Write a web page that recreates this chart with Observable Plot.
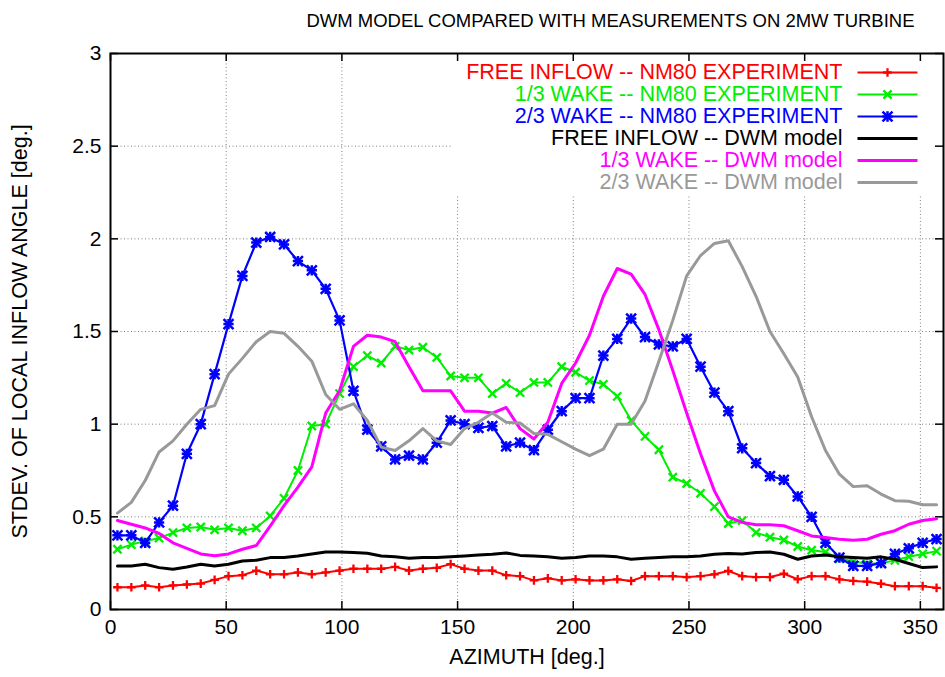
<!DOCTYPE html>
<html><head><meta charset="utf-8">
<script src="https://cdn.jsdelivr.net/npm/d3@7"></script>
<script src="https://cdn.jsdelivr.net/npm/@observablehq/plot@0.6"></script>
<style>
body{margin:0;background:#fff;}
#chart{width:945px;height:677px;}
</style></head><body><div id="chart"></div>
<script>
// ---------- data ----------
const azimuth = [3,9,15,21,27,33,39,45,51,57,63,69,75,81,87,93,99,105,111,117,
  123,129,135,141,147,153,159,165,171,177,183,189,195,201,207,213,219,225,231,237,
  243,249,255,261,267,273,279,285,291,297,303,309,315,321,327,333,339,345,351,357];

const freeInflowExp = [0.12,0.12,0.13,0.12,0.13,0.135,0.14,0.16,0.18,0.185,
  0.21,0.19,0.19,0.20,0.19,0.20,0.21,0.22,0.22,0.22,
  0.23,0.21,0.22,0.225,0.245,0.22,0.21,0.21,0.185,0.18,
  0.157,0.168,0.157,0.163,0.157,0.157,0.163,0.154,0.18,0.18,
  0.18,0.175,0.18,0.19,0.208,0.18,0.175,0.175,0.193,0.163,
  0.18,0.18,0.163,0.154,0.15,0.139,0.126,0.126,0.126,0.117];

const wake13Exp = [0.325,0.35,0.37,0.385,0.415,0.44,0.445,0.43,0.44,0.425,
  0.44,0.505,0.60,0.75,0.99,1.00,1.165,1.31,1.37,1.33,
  1.42,1.40,1.415,1.36,1.26,1.25,1.25,1.165,1.22,1.17,
  1.225,1.225,1.31,1.28,1.235,1.215,1.15,1.02,0.934,0.862,
  0.714,0.68,0.627,0.555,0.464,0.48,0.415,0.39,0.375,0.34,
  0.32,0.31,0.275,0.26,0.245,0.25,0.265,0.285,0.30,0.315];

const wake23Exp = [0.40,0.40,0.36,0.47,0.56,0.84,1.00,1.27,1.54,1.80,
  1.98,2.01,1.97,1.88,1.83,1.73,1.56,1.18,0.97,0.88,
  0.81,0.83,0.81,0.90,1.02,1.00,0.98,0.99,0.88,0.90,
  0.86,0.97,1.07,1.14,1.14,1.37,1.46,1.57,1.47,1.43,
  1.42,1.46,1.31,1.17,1.07,0.87,0.79,0.72,0.70,0.61,
  0.50,0.36,0.28,0.235,0.235,0.25,0.30,0.33,0.36,0.38];

const freeInflowDwm = [0.235,0.235,0.244,0.226,0.217,0.229,0.244,0.235,0.244,0.262,
  0.266,0.28,0.28,0.289,0.30,0.31,0.31,0.307,0.303,0.289,
  0.284,0.276,0.28,0.28,0.284,0.289,0.294,0.298,0.305,0.292,
  0.289,0.284,0.276,0.28,0.289,0.289,0.284,0.271,0.276,0.28,
  0.284,0.284,0.289,0.298,0.302,0.30,0.307,0.31,0.298,0.271,
  0.289,0.294,0.284,0.28,0.276,0.284,0.271,0.248,0.226,0.23];

const wake13Dwm = [0.48,0.46,0.44,0.41,0.36,0.33,0.30,0.29,0.30,0.325,
  0.345,0.45,0.56,0.66,0.77,1.06,1.18,1.42,1.48,1.47,
  1.445,1.31,1.18,1.18,1.18,1.07,1.07,1.06,1.09,0.976,
  0.92,1.01,1.22,1.33,1.48,1.69,1.84,1.81,1.70,1.51,
  1.29,1.06,0.84,0.64,0.50,0.47,0.457,0.457,0.452,0.425,
  0.397,0.388,0.379,0.374,0.379,0.406,0.425,0.46,0.48,0.49];

const wake23Dwm = [0.52,0.578,0.696,0.85,0.91,1.00,1.08,1.10,1.27,1.355,
  1.445,1.50,1.49,1.42,1.34,1.16,1.08,1.11,1.02,0.876,
  0.858,0.91,0.976,0.91,0.89,0.976,1.01,1.06,1.01,1.006,
  0.95,0.945,0.905,0.865,0.83,0.865,1.0,1.0,1.125,1.34,
  1.56,1.8,1.91,1.975,1.99,1.85,1.69,1.50,1.38,1.255,
  1.04,0.858,0.73,0.663,0.668,0.623,0.587,0.584,0.565,0.565];

const xTicks = [0,50,100,150,200,250,300,350];
const yTicks = [0,0.5,1,1.5,2,2.5,3];
const yTickLabels = ["0","0.5","1","1.5","2","2.5","3"];

const titleText = "DWM MODEL COMPARED WITH MEASUREMENTS ON 2MW TURBINE";
const xLabel = "AZIMUTH [deg.]";
const yLabel = "STDEV. OF LOCAL INFLOW ANGLE [deg.]";

const series = [
  {label: "FREE INFLOW -- NM80 EXPERIMENT", values: freeInflowExp, color: "#ff0000", width: 2, symbols: [["plus", 2.9]]},
  {label: "1/3 WAKE -- NM80 EXPERIMENT", values: wake13Exp, color: "#00ee00", width: 2, symbols: [["times", 3.8]]},
  {label: "2/3 WAKE -- NM80 EXPERIMENT", values: wake23Exp, color: "#0000ff", width: 2.2, symbols: [["plus", 3.4], ["times", 4.6]]},
  {label: "FREE INFLOW -- DWM model", values: freeInflowDwm, color: "#000000", width: 3, symbols: []},
  {label: "1/3 WAKE -- DWM model", values: wake13Dwm, color: "#ff00ff", width: 3, symbols: []},
  {label: "2/3 WAKE -- DWM model", values: wake23Dwm, color: "#999999", width: 3, symbols: []}
];

// ---------- layout ----------
const W = 945, H = 677, mL = 110, mR = 2, mT = 53, mB = 68;
const plotW = W - mL - mR, plotH = H - mT - mB;
const X0 = 0, X1 = 360, Y0 = 0, Y1 = 3;
const px2x = p => X0 + (p - mL) / plotW * (X1 - X0);
const py2y = p => Y0 + (H - mB - p) / plotH * (Y1 - Y0);
const FONT = 21, LFONT = 21.5;

const marks = [];
// grid
marks.push(Plot.ruleX(xTicks.filter(d => d > X0 && d < X1), {x: d => d, stroke: "#808080", strokeWidth: 1, strokeDasharray: "1,2.5"}));
marks.push(Plot.ruleY(yTicks.filter(d => d > Y0 && d < Y1), {y: d => d, stroke: "#808080", strokeWidth: 1, strokeDasharray: "1,2.5"}));
// legend background (key box clears grid)
marks.push(Plot.rect([0], {x1: () => px2x(452), x2: () => X1, y1: () => py2y(195), y2: () => Y1, fill: "white"}));
// inward ticks on all four sides
marks.push(Plot.ruleX(xTicks, {x: d => d, insetTop: plotH - 8, stroke: "black", strokeWidth: 1.5}));
marks.push(Plot.ruleX(xTicks, {x: d => d, insetBottom: plotH - 8, stroke: "black", strokeWidth: 1.5}));
marks.push(Plot.ruleY(yTicks, {y: d => d, insetRight: plotW - 8, stroke: "black", strokeWidth: 1.5}));
marks.push(Plot.ruleY(yTicks, {y: d => d, insetLeft: plotW - 8, stroke: "black", strokeWidth: 1.5}));

// series
series.forEach(s => {
  const rows = azimuth.map((a, i) => ({x: a, y: s.values[i]}));
  marks.push(Plot.line(rows, {x: "x", y: "y", stroke: s.color, strokeWidth: s.width, strokeLinejoin: "round"}));
  s.symbols.forEach(([sym, r]) => {
    marks.push(Plot.dot(rows, {x: "x", y: "y", symbol: sym, r, stroke: s.color, strokeWidth: s.width + 0.3, fill: "none"}));
  });
});

// legend
series.forEach((s, i) => {
  const py = 72 + 22 * i;
  const row = [{y: py2y(py)}];
  marks.push(Plot.text(row, {x: () => px2x(842), y: "y", text: () => s.label, fill: s.color, textAnchor: "end", lineAnchor: "middle", fontSize: LFONT}));
  marks.push(Plot.link(row, {x1: () => px2x(857), x2: () => px2x(917), y1: "y", y2: "y", stroke: s.color, strokeWidth: s.width}));
  s.symbols.forEach(([sym, r]) => {
    marks.push(Plot.dot(row, {x: () => px2x(887), y: "y", symbol: sym, r, stroke: s.color, strokeWidth: s.width + 0.3, fill: "none"}));
  });
});

// axes tick labels
marks.push(Plot.axisX({ticks: xTicks, tickSize: 0, tickPadding: 10, label: null, tickFormat: d => String(d), fontSize: FONT}));
marks.push(Plot.axisY({ticks: yTicks, tickSize: 0, tickPadding: 9, label: null, tickFormat: d => yTickLabels[yTicks.indexOf(d)], fontSize: FONT}));
// title & axis labels
marks.push(Plot.text([titleText], {x: () => px2x(610), y: () => Y1, dy: -32, text: d => d, fontSize: 18.5, fill: "black", textAnchor: "middle"}));
marks.push(Plot.text([xLabel], {frameAnchor: "bottom", dy: 54, text: d => d, fontSize: LFONT, fill: "black"}));
marks.push(Plot.text([yLabel], {frameAnchor: "left", dx: -90, rotate: -90, textAnchor: "middle", text: d => d, fontSize: LFONT, fill: "black"}));
// border
marks.push(Plot.frame({stroke: "black", strokeWidth: 2}));

const chart = Plot.plot({
  width: W, height: H,
  marginLeft: mL, marginRight: mR, marginTop: mT, marginBottom: mB,
  x: {domain: [X0, X1]},
  y: {domain: [Y0, Y1]},
  style: {fontFamily: "'Liberation Sans', Arial, Helvetica, sans-serif", fontSize: FONT + "px", background: "white", color: "black"},
  marks
});
document.getElementById("chart").appendChild(chart);
</script>
</body></html>
